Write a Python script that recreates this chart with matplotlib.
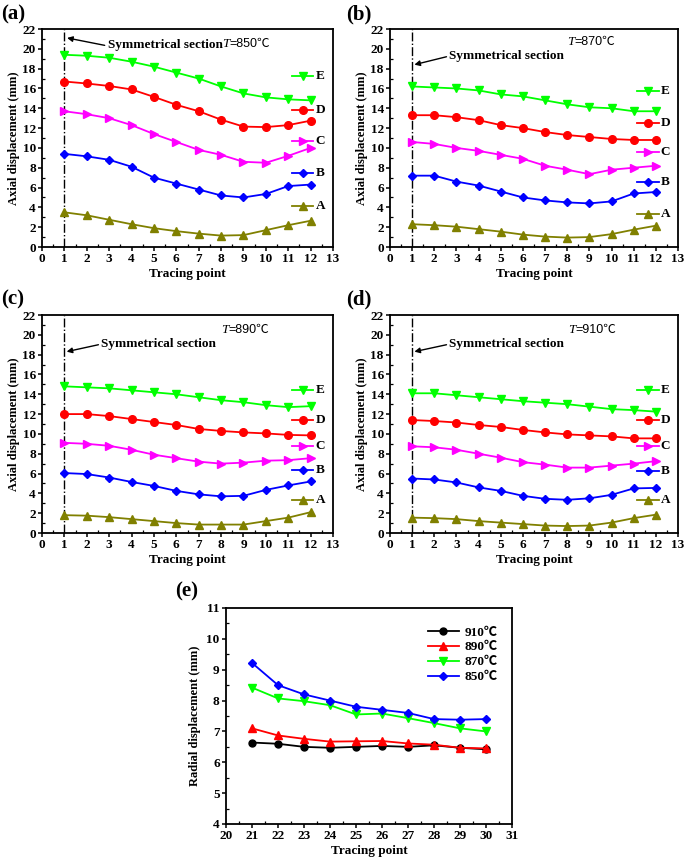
import matplotlib
matplotlib.use("Agg")
import matplotlib.pyplot as plt
from matplotlib.ticker import MultipleLocator

plt.rcParams['font.family'] = ['Liberation Serif', 'Noto Sans CJK SC']
plt.rcParams['font.weight'] = 'bold'

# ---------------- data ----------------
tracing_points = list(range(1, 13))
series_names = ['E', 'D', 'C', 'B', 'A']

temps_axial = ['850', '870', '890', '910']

a_E = [19.4, 19.3, 19.1, 18.7, 18.2, 17.6, 17.0, 16.2, 15.5, 15.1, 14.9, 14.8]
a_D = [16.7, 16.5, 16.25, 15.9, 15.15, 14.35, 13.7, 12.85, 12.15, 12.1, 12.3, 12.75]
a_C = [13.7, 13.4, 13.0, 12.3, 11.4, 10.6, 9.8, 9.3, 8.6, 8.5, 9.2, 10.0]
a_B = [9.4, 9.15, 8.8, 8.1, 7.0, 6.4, 5.8, 5.2, 5.0, 5.35, 6.15, 6.3]
a_A = [3.5, 3.2, 2.75, 2.3, 1.9, 1.6, 1.35, 1.15, 1.2, 1.7, 2.2, 2.65]

b_E = [16.2, 16.1, 16.0, 15.8, 15.4, 15.2, 14.8, 14.4, 14.1, 14.0, 13.7, 13.7]
b_D = [13.3, 13.3, 13.1, 12.8, 12.3, 12.0, 11.6, 11.3, 11.1, 10.9, 10.8, 10.8]
b_C = [10.6, 10.4, 10.0, 9.7, 9.3, 8.9, 8.2, 7.8, 7.35, 7.8, 8.0, 8.2]
b_B = [7.2, 7.2, 6.6, 6.2, 5.6, 5.0, 4.7, 4.5, 4.4, 4.6, 5.4, 5.55]
b_A = [2.3, 2.2, 2.05, 1.8, 1.55, 1.25, 1.05, 0.95, 1.0, 1.3, 1.75, 2.15]

c_E = [14.8, 14.7, 14.6, 14.4, 14.2, 14.0, 13.7, 13.4, 13.2, 12.9, 12.7, 12.8]
c_D = [12.0, 12.0, 11.8, 11.5, 11.2, 10.9, 10.5, 10.3, 10.15, 10.05, 9.9, 9.85]
c_C = [9.1, 9.0, 8.8, 8.4, 7.9, 7.55, 7.2, 7.0, 7.1, 7.3, 7.35, 7.55]
c_B = [6.05, 5.95, 5.6, 5.15, 4.75, 4.25, 3.9, 3.7, 3.75, 4.35, 4.8, 5.2]
c_A = [1.8, 1.75, 1.6, 1.4, 1.2, 1.0, 0.85, 0.85, 0.85, 1.2, 1.55, 2.1]

d_E = [14.1, 14.1, 13.9, 13.7, 13.5, 13.3, 13.15, 13.0, 12.75, 12.5, 12.4, 12.25]
d_D = [11.4, 11.3, 11.15, 10.9, 10.7, 10.4, 10.15, 9.95, 9.85, 9.75, 9.55, 9.55]
d_C = [8.75, 8.65, 8.4, 8.0, 7.6, 7.15, 6.9, 6.6, 6.6, 6.8, 7.0, 7.25]
d_B = [5.5, 5.4, 5.1, 4.6, 4.25, 3.75, 3.45, 3.35, 3.5, 3.85, 4.5, 4.55]
d_A = [1.55, 1.5, 1.4, 1.2, 1.05, 0.9, 0.75, 0.7, 0.75, 1.05, 1.5, 1.85]

radial_points = list(range(21, 31))
radial_labels = ['910℃', '890℃', '870℃', '850℃']
r_910 = [6.64, 6.60, 6.50, 6.47, 6.50, 6.53, 6.50, 6.55, 6.47, 6.42]
r_890 = [7.10, 6.87, 6.76, 6.67, 6.68, 6.69, 6.61, 6.57, 6.47, 6.45]
r_870 = [8.42, 8.07, 7.98, 7.85, 7.55, 7.58, 7.43, 7.27, 7.10, 7.00]
r_850 = [9.22, 8.50, 8.20, 8.00, 7.80, 7.70, 7.60, 7.40, 7.38, 7.40]

# ---------------- style / layout ----------------
series_colors = ['#00ff00', '#ff0000', '#ff00ff', '#0000ff', '#808000']
series_markers = ['v', 'o', '>', 'D', '^']
series_msize = [5.5, 5.5, 5.5, 4.5, 5.5]

radial_colors = ['black', '#ff0000', '#00ff00', '#0000ff']
radial_markers = ['o', '^', 'v', 'D']
radial_msize = [5.0, 5.5, 5.5, 4.5]

W, H = 685, 861
fig = plt.figure(figsize=(W / 100, H / 100), dpi=100)


def rect(l, t, r, b):
    return [l / W, 1 - b / H, (r - l) / W, (b - t) / H]


TICK_FS = 9.5
XLABEL_FS = 9.5
YLABEL_FS = 9.0
SYM_FS = 9.5
T_FS = 9.0
KEY_FS = 9.5
PANEL_FS = 15


def style_axes(ax):
    for s in ax.spines.values():
        s.set_linewidth(1.3)
    ax.tick_params(which='major', direction='out', length=3, width=1.1,
                   labelsize=TICK_FS, pad=1.5)
    ax.tick_params(which='minor', direction='in', length=2, width=0.9)
    for lab in ax.get_xticklabels() + ax.get_yticklabels():
        lab.set_fontweight('bold')


panels = [
    dict(rect=rect(42, 29, 333, 247), data=[a_E, a_D, a_C, a_B, a_A], T='850',
         leg_y=[17.3, 13.8, 10.7, 7.5, 4.15],
         sym_xy=(2.95, 20.4), arr_tail=(2.8, 20.35), arr_head=(1.12, 21.1),
         T_xy=(8.04, 20.5), lab='(a)', lab_xy=(1, 14)),
    dict(rect=rect(390, 29, 678, 247), data=[b_E, b_D, b_C, b_B, b_A], T='870',
         leg_y=[15.75, 12.5, 9.55, 6.6, 3.35],
         sym_xy=(2.66, 19.3), arr_tail=(2.55, 19.2), arr_head=(1.1, 18.4),
         T_xy=(7.99, 20.7), lab='(b)', lab_xy=(346, 14)),
    dict(rect=rect(42, 315, 333, 533), data=[c_E, c_D, c_C, c_B, c_A], T='890',
         leg_y=[14.4, 11.45, 8.8, 6.33, 3.3],
         sym_xy=(2.65, 19.1), arr_tail=(2.52, 19.0), arr_head=(1.1, 18.3),
         T_xy=(8.0, 20.5), lab='(c)', lab_xy=(1, 299)),
    dict(rect=rect(390, 315, 678, 533), data=[d_E, d_D, d_C, d_B, d_A], T='910',
         leg_y=[14.4, 11.4, 8.8, 6.3, 3.3],
         sym_xy=(2.67, 19.1), arr_tail=(2.55, 19.0), arr_head=(1.1, 18.3),
         T_xy=(8.03, 20.5), lab='(d)', lab_xy=(346, 299)),
]

for p in panels:
    ax = fig.add_axes(p['rect'])
    for name, ys, col, mk, ms, ly in zip(series_names, p['data'], series_colors,
                                         series_markers, series_msize, p['leg_y']):
        ax.plot(tracing_points, ys, color=col, lw=1.3, marker=mk, ms=ms,
                mec=col, mfc=col, zorder=3)
        # legend-like key drawn at right
        ax.plot([11.16, 11.66, 12.12], [ly, ly, ly], color=col, lw=1.3,
                marker=mk, ms=ms, markevery=[1], zorder=3, clip_on=False)
        ax.text(12.22, ly, name, fontsize=KEY_FS, fontweight='bold',
                va='center', ha='left')
    ax.axvline(1, color='black', lw=1.0, ls='-.', zorder=2)
    ax.annotate('', xy=p['arr_head'], xytext=p['arr_tail'],
                arrowprops=dict(arrowstyle='-|>', color='black', lw=1.0,
                                mutation_scale=8, shrinkA=0, shrinkB=0))
    ax.text(p['sym_xy'][0], p['sym_xy'][1], 'Symmetrical section',
            fontsize=SYM_FS, fontweight='bold', va='center', ha='left')
    t1 = ax.text(p['T_xy'][0], p['T_xy'][1], 'T', fontsize=T_FS + 0.5,
                 fontstyle='italic', fontweight='normal', va='center', ha='left')
    ax.annotate('=' + p['T'] + '℃', xy=(1.0, 0.0), xycoords=t1,
                fontsize=T_FS, fontweight='normal', va='bottom', ha='left',
                family=['Liberation Sans', 'Noto Sans CJK SC'])
    ax.set_xlim(0, 13)
    ax.set_ylim(0, 22)
    ax.xaxis.set_major_locator(MultipleLocator(1))
    ax.xaxis.set_minor_locator(MultipleLocator(0.5))
    ax.yaxis.set_major_locator(MultipleLocator(2))
    ax.yaxis.set_minor_locator(MultipleLocator(1))
    ax.set_xlabel('Tracing point', fontsize=XLABEL_FS, fontweight='bold', labelpad=2)
    ax.set_ylabel('Axial displacement (mm)', fontsize=YLABEL_FS,
                  fontweight='bold', labelpad=2)
    style_axes(ax)
    fig.text(p['lab_xy'][0] / W, 1 - p['lab_xy'][1] / H, p['lab'], fontsize=PANEL_FS,
             fontweight='bold', va='center', ha='left')

# ---------------- panel (e) ----------------
axe = fig.add_axes(rect(226, 608, 512, 824))
radial_data = [r_910, r_890, r_870, r_850]
for lab, ys, col, mk, ms in zip(radial_labels, radial_data, radial_colors,
                                radial_markers, radial_msize):
    axe.plot(radial_points, ys, color=col, lw=1.3, marker=mk, ms=ms, mec=col,
             mfc=col, label=lab)
leg = axe.legend(loc='upper left', bbox_to_anchor=(0.705, 0.915), frameon=False,
                 fontsize=KEY_FS, handlelength=2.4, handletextpad=0.4,
                 labelspacing=0.2, borderpad=0, borderaxespad=0)
for t in leg.get_texts():
    t.set_fontweight('bold')
axe.set_xlim(20, 31)
axe.set_ylim(4, 11)
axe.xaxis.set_major_locator(MultipleLocator(1))
axe.xaxis.set_minor_locator(MultipleLocator(0.5))
axe.yaxis.set_major_locator(MultipleLocator(1))
axe.yaxis.set_minor_locator(MultipleLocator(0.5))
axe.set_xlabel('Tracing point', fontsize=XLABEL_FS, fontweight='bold', labelpad=2)
axe.set_ylabel('Radial displacement (mm)', fontsize=YLABEL_FS,
               fontweight='bold', labelpad=4)
style_axes(axe)
fig.text(175 / W, 1 - 591 / H, '(e)', fontsize=PANEL_FS, fontweight='bold',
         va='center', ha='left')

fig.savefig('out.png', dpi=100)
